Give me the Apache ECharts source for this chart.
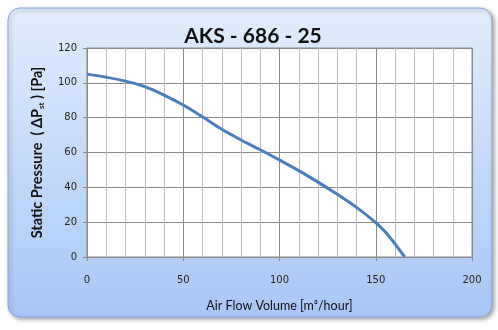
<!DOCTYPE html>
<html>
<head>
<meta charset="utf-8">
<script src="https://cdn.jsdelivr.net/npm/echarts@6/dist/echarts.min.js"></script>
<style>
html,body{margin:0;padding:0;background:#ffffff;}
#chart{width:498px;height:330px;}
</style>
</head>
<body>
<div id="chart"></div>
<script>
// Fan curve: static pressure against air flow volume
const titleText = 'AKS - 686 - 25';
const airFlow = [0, 10, 20, 30, 40, 50, 60, 70, 80, 90, 100, 110, 120, 130, 140, 150, 155, 160, 165];
const pressure = [105, 103.2, 101, 97.8, 93, 87.3, 80.5, 73.3, 67.2, 61.6, 55.7, 49.6, 43, 36, 28.5, 19.8, 14.3, 7.5, 0];
const xTicks = [0, 50, 100, 150, 200];
const yTicks = [0, 20, 40, 60, 80, 100, 120];

const chart = echarts.init(document.getElementById('chart'), null, {renderer: 'canvas'});
const font = 'Lato, "Open Sans", sans-serif';

chart.setOption({
  animation: false,
  graphic: [{
    type: 'rect',
    z: -10,
    shape: {x: 8, y: 8, width: 484, height: 309, r: 12},
    style: {
      fill: new echarts.graphic.LinearGradient(0, 0, 0, 1, [
        {offset: 0, color: '#e2edfc'},
        {offset: 1, color: '#a8c7f6'}
      ]),
      stroke: '#86a8d8',
      lineWidth: 1,
      shadowColor: 'rgba(0,0,0,0.35)',
      shadowBlur: 4,
      shadowOffsetX: 2,
      shadowOffsetY: 2
    }
  }],
  title: {
    text: titleText,
    left: 248,
    textAlign: 'center',
    top: 21,
    textStyle: {fontFamily: font, fontWeight: 'bold', fontSize: 21, color: '#111'}
  },
  grid: {left: 87, right: 26, top: 48, bottom: 73, show: true, backgroundColor: '#ffffff', borderColor: '#8a8a8a', borderWidth: 1},
  xAxis: {
    type: 'value', min: xTicks[0], max: xTicks[xTicks.length - 1], interval: 50,
    name: 'Air Flow Volume [m³/hour]',
    nameLocation: 'middle', nameGap: 42,
    nameTextStyle: {fontFamily: font, fontSize: 12.5, color: '#111'},
    axisLine: {show: true, lineStyle: {color: '#8a8a8a'}},
    axisTick: {show: true, length: 4, lineStyle: {color: '#8a8a8a'}},
    axisLabel: {margin: 18, fontFamily: '"DejaVu Sans", sans-serif', fontSize: 10, color: '#222'},
    splitLine: {show: true, lineStyle: {color: '#8a8a8a', width: 1}},
    minorTick: {show: false, splitNumber: 5},
    minorSplitLine: {show: true, lineStyle: {color: '#bdbdbd', width: 1}}
  },
  yAxis: {
    type: 'value', min: yTicks[0], max: yTicks[yTicks.length - 1], interval: 20,
    name: '{a|Static Pressure  ( ΔP}{s|st}{a| ) [Pa]}',
    nameLocation: 'middle', nameGap: 42, nameRotate: 90,
    nameTextStyle: {
      rich: {
        a: {fontFamily: font, fontSize: 14.5, fontWeight: 'bold', color: '#111'},
        s: {fontFamily: font, fontSize: 8, fontWeight: 'bold', color: '#111', verticalAlign: 'bottom', padding: [7, 0, 0, 0]}
      }
    },
    axisLine: {show: true, lineStyle: {color: '#8a8a8a'}},
    axisTick: {show: true, length: 4, lineStyle: {color: '#8a8a8a'}},
    axisLabel: {margin: 10, fontFamily: '"DejaVu Sans", sans-serif', fontSize: 10, color: '#222'},
    splitLine: {show: true, lineStyle: {color: '#8a8a8a', width: 1}}
  },
  series: [{
    type: 'line',
    data: airFlow.map((x, i) => [x, pressure[i]]),
    smooth: 0.3,
    showSymbol: false,
    lineStyle: {color: '#4a7ebb', width: 3},
    clip: true
  }]
});
</script>
</body>
</html>
